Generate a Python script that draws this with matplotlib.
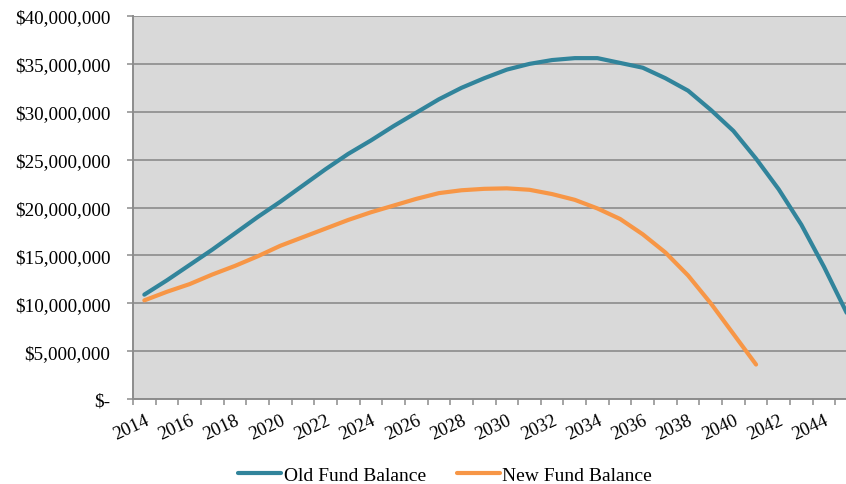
import matplotlib
matplotlib.use("Agg")
import matplotlib.pyplot as plt
import numpy as np

years = list(range(2014, 2046))
old_fund = [10.9, 12.4, 14.0, 15.6, 17.3, 19.0, 20.6, 22.3, 24.0, 25.6, 27.0, 28.5,
            29.9, 31.3, 32.5, 33.5, 34.4, 35.0, 35.4, 35.6, 35.6, 35.1, 34.6, 33.5,
            32.2, 30.2, 28.0, 25.1, 21.9, 18.2, 13.8, 9.0]
new_years = list(range(2014, 2042))
new_fund = [10.3, 11.2, 12.0, 13.0, 13.9, 14.9, 16.0, 16.9, 17.8, 18.7, 19.5, 20.2,
            20.9, 21.5, 21.8, 21.95, 22.0, 21.85, 21.4, 20.8, 19.9, 18.8, 17.2, 15.3,
            12.9, 10.0, 6.8, 3.6]
y_ticks = [0, 5, 10, 15, 20, 25, 30, 35, 40]
y_labels = ["$-", "$5,000,000", "$10,000,000", "$15,000,000", "$20,000,000",
            "$25,000,000", "$30,000,000", "$35,000,000", "$40,000,000"]
label_years = list(range(2014, 2046, 2))

plt.rcParams['font.family'] = ['Liberation Serif', 'DejaVu Serif']

W, H = 846, 485
fig = plt.figure(figsize=(W / 100, H / 100), dpi=100)
ax = fig.add_axes([133 / W, 1 - 400 / H, (858 - 133) / W, (400 - 17) / H])
ax.set_facecolor('#D9D9D9')

old_x = [years.index(y) for y in years]
new_x = [years.index(y) for y in new_years]
ax.plot(old_x, old_fund, color='#31849B', lw=3.0, solid_capstyle='round',
        solid_joinstyle='round', label='Old Fund Balance', zorder=3)
ax.plot(new_x, new_fund, color='#F79646', lw=3.0, solid_capstyle='round',
        solid_joinstyle='round', label='New Fund Balance', zorder=3)

ax.set_xlim(-0.5, len(years) - 0.5)
ax.set_ylim(0, 40)
ax.set_yticks(y_ticks)
ax.set_yticklabels(y_labels, fontsize=13.8)
ax.grid(axis='y', color='#8C8C8C', lw=1.2, zorder=1)
ax.tick_params(axis='y', length=4.3, width=1.1, color='#8C8C8C', pad=12)

ax.set_xticks([years.index(y) for y in label_years])
ax.set_xticklabels([str(y) for y in label_years], rotation=25, ha='right',
                   va='top', rotation_mode='anchor', fontsize=13.5)
ax.set_xticks(np.arange(-0.5, len(years), 1.0), minor=True)
ax.tick_params(axis='x', which='major', length=0, pad=9)
ax.tick_params(axis='x', which='minor', length=4.3, width=1.1, color='#8C8C8C')

for s in ['top', 'right']:
    ax.spines[s].set_visible(False)
for s in ['left', 'bottom']:
    ax.spines[s].set_color('#8C8C8C')
    ax.spines[s].set_linewidth(1.4)

fig.legend(loc='center', bbox_to_anchor=(445 / W, 1 - 476 / H), ncol=2,
           frameon=False, fontsize=14, handlelength=2.2, columnspacing=1.6,
           handletextpad=0.15)

fig.savefig('out.png', dpi=100)
